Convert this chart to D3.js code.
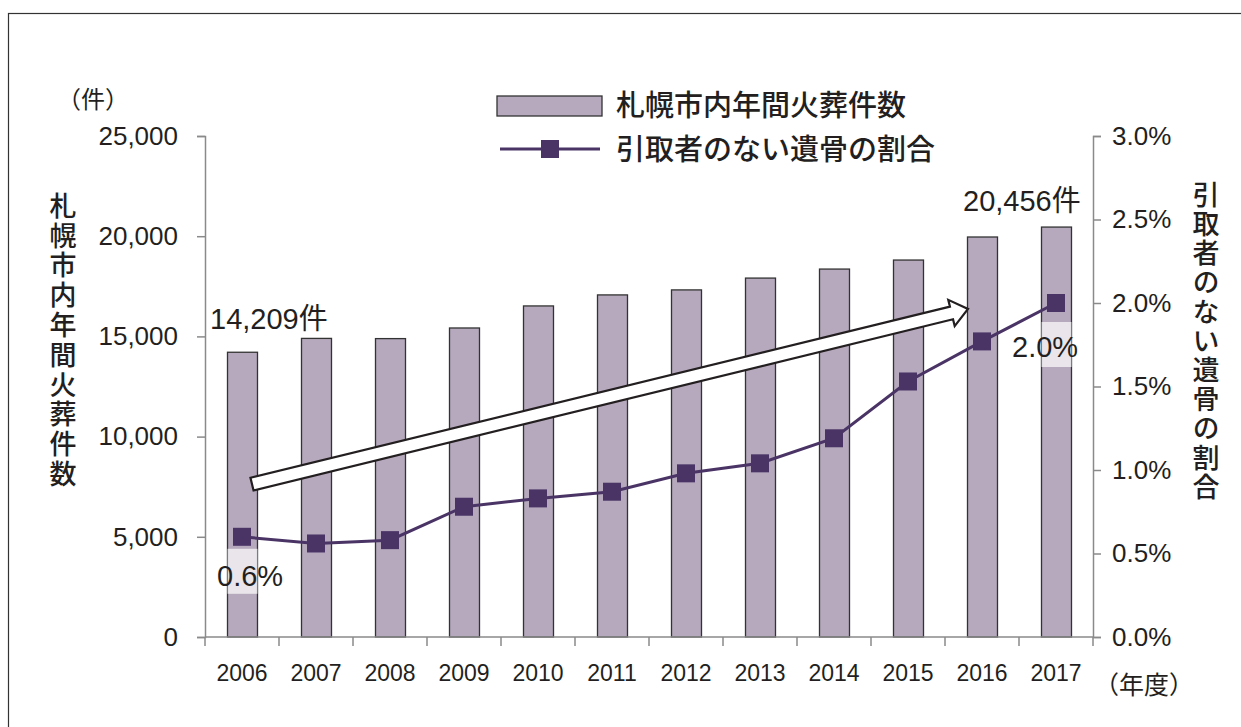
<!DOCTYPE html>
<html>
<head>
<meta charset="utf-8">
<script src="https://cdn.jsdelivr.net/npm/d3@7"></script>
<style>
  body { margin: 0; background: #fff; }
  text { font-family: "Liberation Sans", Arial, "Noto Sans CJK JP", sans-serif; fill: #231f20; }
  .jp { font-family: "Noto Sans CJK JP", sans-serif; }
  .vt { writing-mode: vertical-rl; text-orientation: upright; }
</style>
</head>
<body>
<div id="chart"></div>
<script>
const years = ["2006","2007","2008","2009","2010","2011","2012","2013","2014","2015","2016","2017"]
const cremations = [14209,14900,14890,15420,16520,17070,17320,17910,18360,18810,19960,20456]
const unclaimedPct = [0.60,0.56,0.58,0.78,0.83,0.87,0.98,1.04,1.19,1.53,1.77,2.00]
const leftTicks = [0,5000,10000,15000,20000,25000]
const rightTicks = [0,0.5,1.0,1.5,2.0,2.5,3.0]

drawChart("#chart")

function drawChart(id){
    const canvas = createCanvas()
    const svg = d3.select(id).append("svg").attr("width",canvas.width).attr("height",canvas.height)
    const sc = addScales(canvas)

    svg.append("rect").attr("x",8.5).attr("y",13.5).attr("width",1250).attr("height",730)
      .attr("fill","none").attr("stroke","#333").attr("stroke-width",1.2)

    addBars(svg,sc)
    addArrow(svg,sc)
    addLine(svg,sc)
    addAxes(svg,sc,canvas)
    addLabels(svg,sc)
    addLegend(svg)
}

function createCanvas(){
    return { width:1241, height:727, margin:{top:136,right:148,bottom:90,left:205} }
}

function addScales(canvas){
    const m = canvas.margin
    const x = d3.scaleBand().domain(years).range([m.left,canvas.width - m.right]).paddingInner(0).paddingOuter(0)
    const yL = d3.scaleLinear().domain([0,25000]).range([canvas.height - m.bottom,m.top])
    const yR = d3.scaleLinear().domain([0,3.0]).range([canvas.height - m.bottom,m.top])
    return {x,yL,yR}
}

function addBars(svg,sc){
    const bw = 30
    svg.selectAll("rect.bar").data(years).enter().append("rect").attr("class","bar")
      .attr("x",d => sc.x(d) + sc.x.bandwidth()/2 - bw/2 + 0.5)
      .attr("y",(d,i) => sc.yL(cremations[i]))
      .attr("width",bw)
      .attr("height",(d,i) => sc.yL(0) - sc.yL(cremations[i]))
      .attr("fill","#b6a9bd").attr("stroke","#333").attr("stroke-width",1.3)
}

function addArrow(svg,sc){
    // hollow arrow across the bars, from 2006 to 2016
    const x0 = sc.x("2006") + 47, y0 = sc.yL(7630)
    const x1 = sc.x("2016") + 23, y1 = sc.yL(16370)
    const ang = Math.atan2(y1 - y0, x1 - x0)
    const len = Math.hypot(x1 - x0, y1 - y0)
    const hw = 6.5, headW = 13.5, headL = 17
    const pts = [[0,-hw],[len - headL,-hw],[len - headL,-headW],[len,0],[len - headL,headW],[len - headL,hw],[0,hw]]
    svg.append("polygon")
      .attr("points",pts.map(p => p.join(",")).join(" "))
      .attr("transform",`translate(${x0},${y0}) rotate(${ang*180/Math.PI})`)
      .attr("fill","#fff").attr("stroke","#231f20").attr("stroke-width",2.2).attr("stroke-linejoin","miter")
}

function addLine(svg,sc){
    const cx = d => sc.x(d) + sc.x.bandwidth()/2
    const line = d3.line().x(d => cx(d)).y((d,i) => sc.yR(unclaimedPct[i]))
    svg.append("path").datum(years).attr("fill","none").attr("stroke","#4a3466")
      .attr("stroke-width",3).attr("d",line)

    // pale boxes behind the end labels
    svg.append("rect").attr("x",cx("2006") - 14.5).attr("y",sc.yR(0.6) + 12).attr("width",30).attr("height",45)
      .attr("fill","#ffffff").attr("opacity",0.7)
    svg.append("rect").attr("x",cx("2017") - 14.5).attr("y",sc.yR(2.0) + 19).attr("width",30).attr("height",45)
      .attr("fill","#ffffff").attr("opacity",0.7)

    svg.selectAll("rect.pt").data(years).enter().append("rect").attr("class","pt")
      .attr("x",d => cx(d) - 9).attr("y",(d,i) => sc.yR(unclaimedPct[i]) - 9)
      .attr("width",18).attr("height",18).attr("fill","#4a3466")
}

function addAxes(svg,sc,canvas){
    const axisColor = "#8a8a8a"
    const gL = svg.append("g").attr("transform",`translate(${canvas.margin.left},0)`)
      .call(d3.axisLeft(sc.yL).tickValues(leftTicks).tickFormat(d3.format(",")).tickSize(8).tickPadding(19))
    const gR = svg.append("g").attr("transform",`translate(${canvas.width - canvas.margin.right},0)`)
      .call(d3.axisRight(sc.yR).tickValues(rightTicks).tickFormat(d => d.toFixed(1) + "%").tickSize(8).tickPadding(11))
    const gB = svg.append("g").attr("transform",`translate(0,${sc.yL(0)})`)
      .call(d3.axisBottom(sc.x).tickSize(0).tickPadding(28))

    // category boundary ticks on bottom axis
    const bounds = years.map(d => sc.x(d)).concat([sc.x(years[years.length-1]) + sc.x.bandwidth()])
    gB.selectAll("line.bnd").data(bounds).enter().append("line").attr("class","bnd")
      .attr("x1",d => d).attr("x2",d => d).attr("y1",0).attr("y2",9)
      .attr("stroke",axisColor).attr("stroke-width",1.5)

    ;[gL,gR,gB].forEach(g => {
        g.select(".domain").attr("stroke",axisColor).attr("stroke-width",1.5)
        g.selectAll(".tick line").attr("stroke",axisColor).attr("stroke-width",1.5)
        g.selectAll(".tick text").attr("font-size","26px").attr("fill","#231f20")
          .attr("font-family","'Liberation Sans', Arial, sans-serif")
    })
    gB.selectAll(".tick text").attr("font-size","23px")
    gB.select(".domain").attr("d",`M${canvas.margin.left},0H${canvas.width - canvas.margin.right}`)
}

function addLabels(svg,sc){
    svg.append("text").attr("class","jp").attr("x",57).attr("y",108).attr("font-size","24px").text("（件）")
    svg.append("text").attr("class","jp").attr("x",1094).attr("y",694).attr("font-size","25px").text("（年度）")

    // vertical axis titles, one text each
    svg.append("text").attr("class","jp vt").attr("x",63).attr("y",192)
      .attr("font-size","27px").attr("font-weight",500).attr("letter-spacing","2.8px")
      .text("札幌市内年間火葬件数")
    svg.append("text").attr("class","jp vt").attr("x",1206).attr("y",181)
      .attr("font-size","27px").attr("font-weight",500).attr("letter-spacing","2.2px")
      .text("引取者のない遺骨の割合")

    svg.append("text").attr("x",210).attr("y",329).attr("font-size","29px").text("14,209件")
    svg.append("text").attr("x",963).attr("y",211).attr("font-size","29px").text("20,456件")
    svg.append("text").attr("x",217).attr("y",sc.yR(0.6) + 49).attr("font-size","29px").text("0.6%")
    svg.append("text").attr("x",1012).attr("y",sc.yR(2.0) + 54).attr("font-size","29px").text("2.0%")
}

function addLegend(svg){
    svg.append("rect").attr("x",497).attr("y",96).attr("width",105).attr("height",20)
      .attr("fill","#b6a9bd").attr("stroke","#333").attr("stroke-width",1.3)
    svg.append("line").attr("x1",500).attr("x2",600).attr("y1",149).attr("y2",149)
      .attr("stroke","#4a3466").attr("stroke-width",3)
    svg.append("rect").attr("x",541).attr("y",140).attr("width",18).attr("height",18).attr("fill","#4a3466")
    svg.append("text").attr("class","jp").attr("x",616).attr("y",116).attr("font-size","29px").attr("font-weight",500)
      .text("札幌市内年間火葬件数")
    svg.append("text").attr("class","jp").attr("x",616).attr("y",160).attr("font-size","29px").attr("font-weight",500)
      .text("引取者のない遺骨の割合")
}
</script>
</body>
</html>
